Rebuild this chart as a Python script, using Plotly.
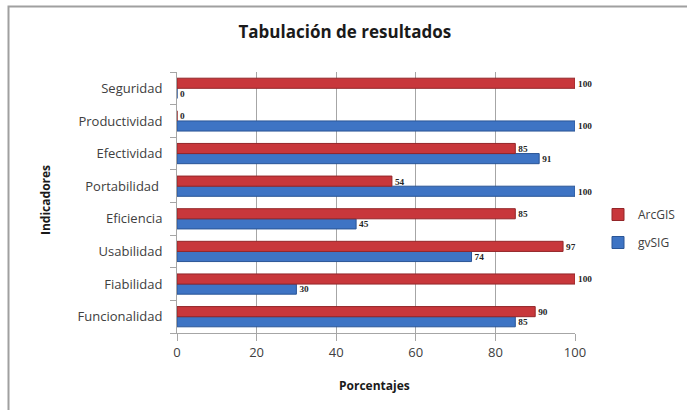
import plotly.graph_objects as go

categories = ["Funcionalidad", "Fiabilidad", "Usabilidad", "Eficiencia",
              "Portabilidad ", "Efectividad", "Productividad", "Seguridad"]
arcgis = [90, 100, 97, 85, 54, 85, 0, 100]
gvsig = [85, 30, 74, 45, 100, 91, 100, 0]
x_ticks = [0, 20, 40, 60, 80, 100]

W, H = 687, 410
L, R, T, B = 177, 112, 72, 77
pw, ph = W - L - R, H - T - B

def px_x(p):
    return (p - L) / pw

def px_y(p):
    return (H - B - p) / ph

FONT = "Open Sans"
label_font = dict(family="Liberation Serif", size=11, color="#262626")

fig = go.Figure()
fig.add_trace(go.Bar(
    y=categories, x=gvsig, orientation="h", name="gvSIG",
    marker=dict(color="#3E74C4", line=dict(color="#2A5596", width=1)),
    text=["<b>%d</b>" % v for v in gvsig], textposition="outside",
    textfont=label_font, cliponaxis=False, legendgroup="g", legendrank=2,
))
fig.add_trace(go.Bar(
    y=categories, x=arcgis, orientation="h", name="ArcGIS",
    marker=dict(color="#C8373B", line=dict(color="#932629", width=1)),
    text=["<b>%d</b>" % v for v in arcgis], textposition="outside",
    textfont=label_font, cliponaxis=False, legendgroup="a", legendrank=1,
))

fig.update_layout(
    width=W, height=H,
    margin=dict(l=L, r=R, t=T, b=B, autoexpand=False),
    paper_bgcolor="white", plot_bgcolor="white",
    barmode="group", bargap=0.38, bargroupgap=0.0,
    title=dict(text="<b>Tabulación de resultados</b>", x=0.502, xanchor="center",
               y=1 - 32 / H, yanchor="middle",
               font=dict(family=FONT, size=17, color="#1a1a1a")),
    font=dict(family=FONT, size=13, color="#404040"),
    legend=dict(x=px_x(598), y=px_y(200), xanchor="left", yanchor="top",
                traceorder="grouped", tracegroupgap=9, itemwidth=30,
                font=dict(family=FONT, size=12, color="#404040"),
                bgcolor="rgba(0,0,0,0)"),
    xaxis=dict(range=[0, 100], tickvals=x_ticks, showgrid=True,
               gridcolor="#A6A6A6", gridwidth=1, zeroline=False,
               showline=True, linecolor="#A6A6A6", linewidth=1,
               ticks="outside", ticklen=7, tickcolor="#A6A6A6",
               tickfont=dict(family=FONT, size=13, color="#404040"),
               fixedrange=True),
    yaxis=dict(showgrid=False, showline=True, linecolor="#A6A6A6", linewidth=1,
               ticks="outside", ticklen=6, tickcolor="#A6A6A6",
               tickson="boundaries", ticklabelstandoff=11,
               tickfont=dict(family=FONT, size=13, color="#404040"),
               fixedrange=True),
    showlegend=True,
)

fig.add_annotation(text="<b>Porcentajes</b>", xref="paper", yref="paper",
                   x=px_x(374), y=px_y(385), showarrow=False,
                   font=dict(family=FONT, size=12, color="#1a1a1a"),
                   xanchor="center", yanchor="middle")
fig.add_annotation(text="<b>Indicadores</b>", xref="paper", yref="paper",
                   x=px_x(45), y=px_y(200), showarrow=False, textangle=-90,
                   font=dict(family=FONT, size=12, color="#1a1a1a"),
                   xanchor="center", yanchor="middle")

# chart frame (top and left edges visible)
fig.add_shape(type="rect", xref="paper", yref="paper",
              x0=px_x(8.5), x1=px_x(W + 20), y0=px_y(H + 20), y1=px_y(6.5),
              line=dict(color="#A0A0A0", width=2), layer="below")

fig.write_html("out.html")
